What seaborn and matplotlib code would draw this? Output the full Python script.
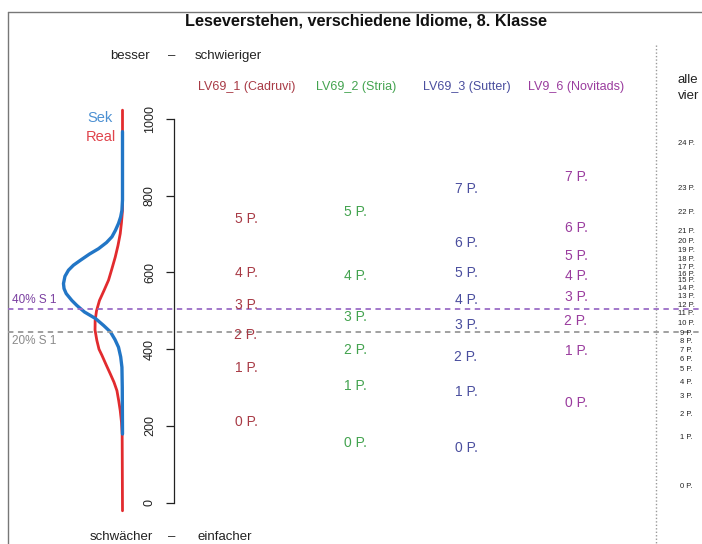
import pandas as pd
import matplotlib.pyplot as plt
import seaborn as sns

# Werte (Skala 0-1000)
idiome = ["LV69_1 (Cadruvi)", "LV69_2 (Stria)", "LV69_3 (Sutter)", "LV9_6 (Novitads)"]
idiom_farben = ["#A83A45", "#43A34F", "#4A4E9E", "#9A3C9E"]

# Schwelle je Punktzahl (Index = Punkte)
cadruvi_punkte = [210, 350, 437, 515, 599, 739]
stria_punkte = [156, 304, 398, 484, 590, 758]
sutter_punkte = [143, 288, 380, 463, 529, 599, 677, 817]
novitads_punkte = [260, 395, 473, 536, 590, 643, 716, 849]
alle_punkte = [41, 171, 231, 278, 312, 346, 374, 397, 421, 442, 468, 492, 515,
               538, 559, 578, 596, 614, 635, 658, 682, 708, 757, 820, 937]

grenze_40 = 504
grenze_20 = 446

# Verteilungen (Dichte pro 1000 Punkte)
sek_skala = [967, 789, 762, 745, 728, 710, 693, 678, 662, 648, 632, 619, 606, 590,
             571, 558, 545, 527, 514, 497, 480, 462, 445, 425, 405, 380, 353, 300, 179]
sek_dichte = [0, 0, 0.05, 0.16, 0.35, 0.62, 0.93, 1.41, 2.11, 2.91, 3.70, 4.32, 4.76, 5.07,
              5.20, 5.15, 4.96, 4.46, 4.02, 3.35, 2.38, 1.67, 1.06, 0.66, 0.35, 0.16, 0.05, 0.02, 0]
real_skala = [1023, 762, 730, 701, 670, 640, 610, 580, 553, 527, 500, 475, 450, 423,
              400, 384, 360, 336, 314, 292, 265, 240, 210, 179, -21]
real_dichte = [0, 0, 0.09, 0.20, 0.40, 0.64, 0.93, 1.23, 1.63, 2.03, 2.29, 2.41, 2.42, 2.26,
               2.07, 1.81, 1.45, 1.08, 0.75, 0.49, 0.33, 0.20, 0.09, 0.03, 0]

sns.set_theme(style="white")
plt.rcParams['font.family'] = ['Liberation Sans', 'DejaVu Sans']

W, H = 702, 544
Y0, PX = 502.7, 0.3837   # Pixelzeile von 0 und Pixel pro Skalenpunkt


def py(y_px):
    # Pixelzeile -> Skalenwert
    return (Y0 - y_px) / PX


fig = plt.figure(figsize=(W / 100, H / 100), dpi=100)
ax = fig.add_axes([0, 0, 1, 1])
ax.set_xlim(0, W)
ax.set_ylim(py(H), py(0))
ax.axis('off')

# Rahmen
ax.plot([8, 8], [py(H), py(12)], color="#777777", lw=1)
ax.plot([8, W], [py(12), py(12)], color="#777777", lw=1)
ax.plot([656, 656], [py(45), py(H)], color="#999999", lw=1, ls=(0, (1, 1.5)))

# Verteilungen
basis, faktor = 122.5, 11.35
df_real = pd.DataFrame({"punkte": real_skala, "x": [basis - faktor * d for d in real_dichte]})
df_sek = pd.DataFrame({"punkte": sek_skala, "x": [basis - faktor * d for d in sek_dichte]})
sns.lineplot(data=df_real, x="x", y="punkte", orient="y", sort=False, estimator=None,
             color="#E22B2E", lw=2, ax=ax)
sns.lineplot(data=df_sek, x="x", y="punkte", orient="y", sort=False, estimator=None,
             color="#2276C6", lw=2.4, ax=ax)
ax.text(113, py(118), "Sek", color="#4C90D2", fontsize=10.5, ha="right", va="center")
ax.text(116, py(137), "Real", color="#E0444C", fontsize=10.5, ha="right", va="center")

# Grenzlinien
ax.plot([8, W], [grenze_40, grenze_40], color="#9B6DC6", lw=1.3, ls=(0, (3, 2.5)))
ax.plot([8, W], [grenze_20, grenze_20], color="#999999", lw=1.3, ls=(0, (3, 2.5)))
ax.text(12, grenze_40 + 9, "40% S 1", color="#7A3FA0", fontsize=8.5, va="bottom")
ax.text(12, grenze_20 - 8, "20% S 1", color="#8A8A8A", fontsize=8.5, va="top")

# Punkte je Idiom
spalten = [246, 355, 466, 576]
for xs, werte, farbe in zip(spalten, [cadruvi_punkte, stria_punkte, sutter_punkte, novitads_punkte], idiom_farben):
    for p, v in enumerate(werte):
        ax.text(xs, v, f"{p} P.", color=farbe, fontsize=10, ha="center", va="center")
for p, v in enumerate(alle_punkte):
    ax.text(686, v, f"{p} P.", color="#222222", fontsize=5.5, ha="center", va="center")

# Kopfzeilen
kopf_x = [247, 356, 467, 576]
for xs, name, farbe in zip(kopf_x, idiome, idiom_farben):
    ax.text(xs, py(87), name, color=farbe, fontsize=9, ha="center", va="center")
ax.text(678, py(80), "alle", color="#222222", fontsize=9.5, va="center")
ax.text(678, py(96), "vier", color="#222222", fontsize=9.5, va="center")

ax.text(366, py(21), "Leseverstehen, verschiedene Idiome, 8. Klasse", fontsize=11.7,
        fontweight="bold", ha="center", va="center", color="#111111")
ax.text(150, py(56), "besser", fontsize=9.5, ha="right", va="center", color="#222222")
ax.text(172, py(56), "–", fontsize=9.5, ha="center", va="center", color="#222222")
ax.text(195, py(56), "schwieriger", fontsize=9.5, ha="left", va="center", color="#222222")
ax.text(153, py(537), "schwächer", fontsize=9.5, ha="right", va="center", color="#222222")
ax.text(172, py(537), "–", fontsize=9.5, ha="center", va="center", color="#222222")
ax.text(197, py(537), "einfacher", fontsize=9.5, ha="left", va="center", color="#222222")

# Skala
ax2 = fig.add_axes([174 / W, 0, 0.001, 1])
ax2.patch.set_alpha(0)
ax2.set_ylim(py(H), py(0))
for s in ["top", "right", "bottom"]:
    ax2.spines[s].set_visible(False)
ax2.spines["left"].set_bounds(0, 1000)
ax2.spines["left"].set_color("#222222")
ax2.spines["left"].set_linewidth(0.9)
ax2.set_xticks([])
ax2.set_yticks(range(0, 1001, 200))
ax2.tick_params(axis="y", left=True, direction="out", length=6, width=0.9, pad=7,
                labelsize=9, labelrotation=90, colors="#222222")
for lbl in ax2.get_yticklabels():
    lbl.set_va("center")

fig.savefig("out.png", dpi=100)
